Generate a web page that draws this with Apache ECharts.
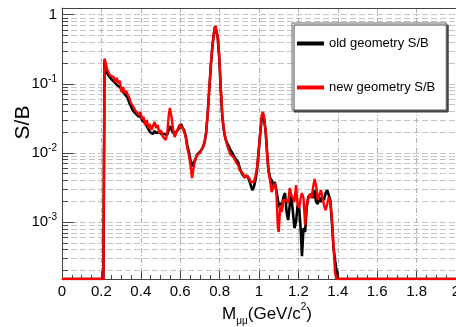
<!DOCTYPE html>
<html>
<head>
<meta charset="utf-8">
<script src="https://cdn.jsdelivr.net/npm/echarts@6/dist/echarts.min.js"></script>
<style>
  html, body { margin: 0; padding: 0; background: #fff; }
  #chart { width: 456px; height: 327px; }
</style>
</head>
<body>
<div id="chart"></div>
<script>
const massX = [
  0, 0.21, 0.216, 0.222, 0.230, 0.238, 0.246, 0.254, 0.262, 0.270, 0.278, 0.286, 0.294,
  0.302, 0.310, 0.318, 0.326, 0.334, 0.342, 0.350, 0.358, 0.366, 0.374, 0.382, 0.390, 0.398,
  0.406, 0.414, 0.422, 0.430, 0.438, 0.446, 0.454, 0.462, 0.470, 0.478, 0.486, 0.494,
  0.502, 0.510, 0.518, 0.526, 0.534, 0.542, 0.548, 0.556, 0.564, 0.572, 0.580, 0.588, 0.596,
  0.604, 0.612, 0.620, 0.628, 0.636, 0.644, 0.652, 0.660, 0.668, 0.676, 0.684, 0.692,
  0.700, 0.708, 0.716, 0.724, 0.732, 0.740, 0.748, 0.756, 0.764, 0.772, 0.778, 0.784, 0.790, 0.798,
  0.806, 0.814, 0.822, 0.830, 0.838, 0.846, 0.854, 0.862, 0.870, 0.878, 0.886, 0.894,
  0.902, 0.910, 0.918, 0.926, 0.934, 0.942, 0.950, 0.958, 0.966, 0.974, 0.982, 0.990, 0.998,
  1.006, 1.014, 1.020, 1.026, 1.034, 1.040, 1.048, 1.056, 1.064, 1.072, 1.080, 1.088, 1.096,
  1.100, 1.108, 1.116, 1.124, 1.132, 1.140, 1.148, 1.156, 1.164, 1.172, 1.180, 1.188, 1.196,
  1.204, 1.212, 1.218, 1.226, 1.234, 1.242, 1.250, 1.258, 1.266, 1.274, 1.282, 1.290, 1.298,
  1.306, 1.314, 1.322, 1.330, 1.338, 1.346, 1.354, 1.362, 1.370, 1.378, 1.386, 1.392, 1.400, 2.0
]
// old geometry S/B (black)
const sbOld = [
  1.5e-4, 1.5e-4, 0.221, 0.181, 0.141, 0.130, 0.122, 0.114, 0.110, 0.103, 0.0961, 0.0930, 0.0899,
  0.0814, 0.0761, 0.0712, 0.0666, 0.0623, 0.0527, 0.0477, 0.0418, 0.0391, 0.0378, 0.0354, 0.0331, 0.0354,
  0.0299, 0.0289, 0.0271, 0.0245, 0.0222, 0.0201, 0.0208, 0.0188, 0.0208, 0.0194, 0.0182, 0.0201,
  0.0188, 0.0176, 0.0188, 0.0176, 0.0182, 0.0215, 0.0245, 0.0230, 0.0194, 0.0182, 0.0201, 0.0194, 0.0230,
  0.0262, 0.0230, 0.0215, 0.0176, 0.0130, 0.0103, 0.00789, 0.00646, 0.00715, 0.00789, 0.00933, 0.00997,
  0.0103, 0.0111, 0.0122, 0.0144, 0.0201, 0.0391, 0.0870, 0.194, 0.364, 0.562, 0.686, 0.663, 0.476, 0.244,
  0.0814, 0.0320, 0.0208, 0.0159, 0.0139, 0.0126, 0.0111, 0.0103, 0.00933, 0.00843, 0.00789, 0.00738,
  0.00605, 0.00529, 0.00479, 0.00448, 0.00433, 0.00463, 0.00405, 0.00343, 0.00290, 0.00321, 0.00405, 0.00565, 0.0103,
  0.0188, 0.0320, 0.0366, 0.0309, 0.0201, 0.0111, 0.00565, 0.00433, 0.00405, 0.00343, 0.00379, 0.00290, 0.00208,
  0.00164, 0.00189, 0.00159, 0.00230, 0.00263, 0.00140, 0.00107, 0.00176, 0.00238, 0.00140, 0.000819, 0.00100, 0.00176,
  0.00159, 0.000766, 0.000322, 0.000819, 0.000717, 0.00159, 0.00230, 0.00230, 0.00255, 0.00222, 0.00290, 0.00195, 0.00182,
  0.00230, 0.00195, 0.00230, 0.00208, 0.00263, 0.00290, 0.00290, 0.00208, 0.00100, 0.000435, 0.000282, 0.000216, 1.5e-4, 1.5e-4
]
// new geometry S/B (red)
const sbNew = [
  1.5e-4, 1.5e-4, 0.233, 0.200, 0.158, 0.141, 0.130, 0.122, 0.126, 0.106, 0.122, 0.102, 0.110,
  0.0761, 0.0899, 0.0736, 0.0787, 0.0689, 0.0623, 0.0527, 0.0510, 0.0446, 0.0404, 0.0418, 0.0354, 0.0391,
  0.0309, 0.0331, 0.0254, 0.0299, 0.0230, 0.0262, 0.0215, 0.0222, 0.0280, 0.0230, 0.0254, 0.0194,
  0.0215, 0.0176, 0.0182, 0.0154, 0.0194, 0.0354, 0.0446, 0.0331, 0.0215, 0.0170, 0.0194, 0.0182, 0.0254,
  0.0271, 0.0230, 0.0201, 0.0170, 0.0118, 0.00933, 0.00668, 0.00433, 0.00605, 0.00789, 0.00933, 0.00997,
  0.00997, 0.0111, 0.0122, 0.0144, 0.0201, 0.0391, 0.0870, 0.194, 0.364, 0.562, 0.686, 0.663, 0.492, 0.261,
  0.0870, 0.0354, 0.0215, 0.0159, 0.0130, 0.0111, 0.00964, 0.00902, 0.00872, 0.00816, 0.00715, 0.00668,
  0.00565, 0.00529, 0.00512, 0.00433, 0.00479, 0.00512, 0.00433, 0.00379, 0.00367, 0.00379, 0.00463, 0.00605, 0.0103,
  0.0201, 0.0354, 0.0391, 0.0331, 0.0201, 0.0111, 0.00529, 0.00405, 0.00272, 0.00321, 0.00367, 0.00272, 0.000819,
  0.000717, 0.00176, 0.00140, 0.00208, 0.00195, 0.00208, 0.00189, 0.00310, 0.00247, 0.00263, 0.00195, 0.00343, 0.00176,
  0.00159, 0.00230, 0.00263, 0.00222, 0.000905, 0.00182, 0.00176, 0.00255, 0.00222, 0.00310, 0.00419, 0.00333, 0.00208,
  0.00201, 0.00290, 0.00290, 0.00176, 0.00149, 0.00182, 0.00230, 0.00195, 0.00115, 0.000465, 0.000189, 1.5e-4, 1.5e-4, 1.5e-4
]
const yDecades = [0.001, 0.01, 0.1, 1]
const yDecadeLabels = ['{b|10}{s|-3}', '{b|10}{s|-2}', '{b|10}{s|-1}', '{b|1}']
const yGridValues = [
  2e-4, 3e-4, 4e-4, 5e-4, 6e-4, 7e-4, 8e-4, 9e-4,
  1e-3, 2e-3, 3e-3, 4e-3, 5e-3, 6e-3, 7e-3, 8e-3, 9e-3,
  1e-2, 2e-2, 3e-2, 4e-2, 5e-2, 6e-2, 7e-2, 8e-2, 9e-2,
  0.1, 0.2, 0.3, 0.4, 0.5, 0.6, 0.7, 0.8, 0.9, 1
]
const seriesNames = ['old geometry S/B', 'new geometry S/B']

const Y_MIN = 1.5e-4
const Y_MAX = 1.25
const FONT = 'Liberation Sans'
const AXIS_COLOR = '#444'

const chart = echarts.init(document.getElementById('chart'))

const option = {
  backgroundColor: '#fff',
  animation: false,
  textStyle: { fontFamily: FONT },
  grid: { left: 62, right: 0, top: 8, bottom: 48, containLabel: false, outerBoundsMode: 'none' },
  legend: {
    orient: 'vertical',
    left: 292,
    top: 23,
    data: seriesNames,
    icon: 'rect',
    itemWidth: 27,
    itemHeight: 4,
    itemGap: 31,
    padding: [14, 11, 16, 5],
    backgroundColor: '#fff',
    borderColor: '#666',
    borderWidth: 1,
    shadowColor: '#444',
    shadowOffsetX: 2,
    shadowOffsetY: 2,
    shadowBlur: 0,
    textStyle: { fontFamily: FONT, fontSize: 13, color: '#000' },
  },
  xAxis: [
    {
      type: 'value',
      min: 0,
      max: 2,
      interval: 0.2,
      name: '{m|M}{sub|μμ}{m|(GeV/c}{sup|2}{m|)}',
      nameLocation: 'middle',
      nameGap: 23,
      nameMoveOverlap: false,
      nameTextStyle: {
        padding: [0, 0, 0, 16],
        rich: {
          m: { fontFamily: FONT, fontSize: 17, color: '#000', lineHeight: 24 },
          sub: { fontFamily: FONT, fontSize: 10, color: '#000', verticalAlign: 'bottom', lineHeight: 14 },
          sup: { fontFamily: FONT, fontSize: 10, color: '#000', verticalAlign: 'top', lineHeight: 14 },
        },
      },
      axisLine: { lineStyle: { color: AXIS_COLOR, width: 1 } },
      axisTick: { inside: true, length: 8, lineStyle: { color: AXIS_COLOR } },
      minorTick: { show: true, splitNumber: 4, length: 4, lineStyle: { color: AXIS_COLOR } },
      axisLabel: {
        fontFamily: FONT,
        fontSize: 15,
        color: '#000',
        margin: 5,
        formatter: (v) => String(Math.round(v * 10) / 10),
      },
      splitLine: {
        show: true,
        lineStyle: { color: '#b0b0b0', type: [5, 2, 1, 2], width: 1 },
      },
    },
    {
      type: 'value',
      position: 'top',
      min: 0,
      max: 2,
      interval: 0.2,
      axisLine: { show: true, lineStyle: { color: AXIS_COLOR, width: 1 } },
      axisTick: { show: false },
      axisLabel: { show: false },
      splitLine: { show: false },
    },
  ],
  yAxis: [
    {
      type: 'log',
      logBase: 10,
      min: Y_MIN,
      max: Y_MAX,
      name: 'S/B',
      nameLocation: 'middle',
      nameGap: 28,
      nameMoveOverlap: false,
      nameTextStyle: { fontFamily: FONT, fontSize: 21, color: '#000', padding: [0, 0, 0, 42] },
      axisLine: { show: true, lineStyle: { color: AXIS_COLOR, width: 1 } },
      axisTick: {
        inside: true,
        length: 6,
        customValues: yGridValues,
        lineStyle: { color: AXIS_COLOR },
      },
      axisLabel: {
        customValues: yDecades,
        margin: 5,
        formatter: (v) => yDecadeLabels[yDecades.findIndex((d) => Math.abs(Math.log10(d) - Math.log10(v)) < 0.01)],
        rich: {
          b: { fontFamily: FONT, fontSize: 15, color: '#000', lineHeight: 20 },
          s: { fontFamily: FONT, fontSize: 10, color: '#000', verticalAlign: 'top', lineHeight: 12 },
        },
      },
      splitLine: {
        show: true,
        lineStyle: { color: '#c4c4c4', type: [6, 3], width: 1 },
      },
    },
    {
      // longer ticks at the decades
      type: 'log',
      logBase: 10,
      min: Y_MIN,
      max: Y_MAX,
      position: 'left',
      axisLine: { show: false },
      axisTick: {
        inside: true,
        length: 12,
        customValues: yDecades,
        lineStyle: { color: AXIS_COLOR },
      },
      axisLabel: { show: false },
      splitLine: { show: false },
    },
  ],
  series: [
    {
      name: seriesNames[0],
      type: 'line',
      xAxisIndex: 0,
      yAxisIndex: 0,
      showSymbol: false,
      color: '#000',
      lineStyle: { color: '#000', width: 2.6 },
      data: massX.map((x, i) => [x, sbOld[i]]),
      z: 3,
    },
    {
      name: seriesNames[1],
      type: 'line',
      xAxisIndex: 0,
      yAxisIndex: 0,
      showSymbol: false,
      color: '#ff0000',
      lineStyle: { color: '#ff0000', width: 2.4 },
      data: massX.map((x, i) => [x, sbNew[i]]),
      z: 4,
    },
  ],
}

chart.setOption(option)
</script>
</body>
</html>
